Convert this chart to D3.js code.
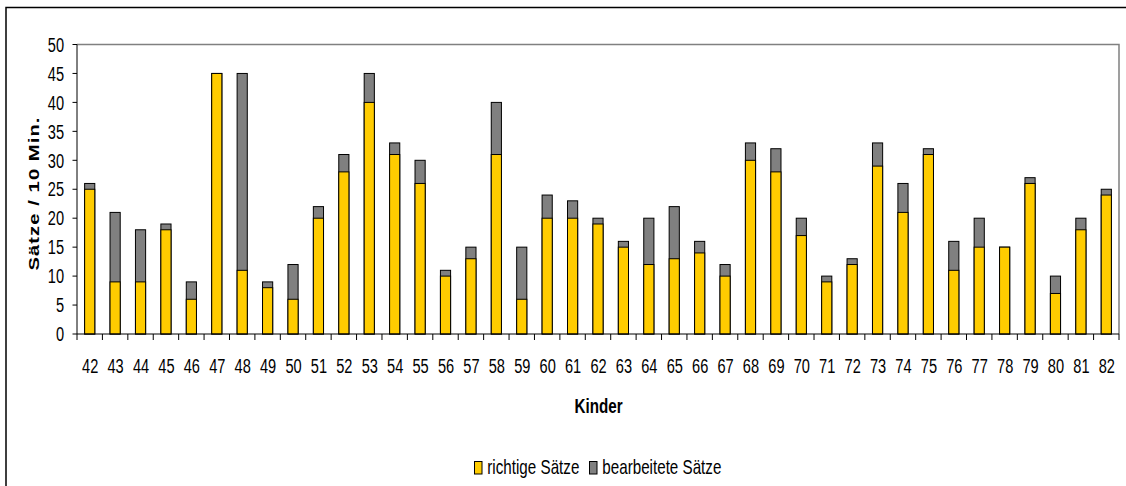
<!DOCTYPE html>
<html>
<head>
<meta charset="utf-8">
<script src="https://cdn.jsdelivr.net/npm/d3@7"></script>
<style>
  html, body { margin: 0; padding: 0; background: #fff; }
  svg { display: block; font-family: "Liberation Sans", Arial, sans-serif; }
</style>
</head>
<body>
<svg id="chart" width="1126" height="486"></svg>
<script>
// Children 42–82: sentences per 10 minutes
const kinder = ["42","43","44","45","46","47","48","49","50","51","52","53","54","55","56","57","58","59","60","61","62","63","64","65","66","67","68","69","70","71","72","73","74","75","76","77","78","79","80","81","82"];
const richtigeSaetze = [25,9,9,18,6,45,11,8,6,20,28,40,31,26,10,13,31,6,20,20,19,15,12,13,14,10,30,28,17,9,12,29,21,31,11,15,15,26,7,18,24];
const bearbeiteteSaetze = [26,21,18,19,9,45,45,9,12,22,31,45,33,30,11,15,40,15,24,23,20,16,20,22,16,12,33,32,20,10,13,33,26,32,16,20,15,27,10,20,25];
const yTicks = [0,5,10,15,20,25,30,35,40,45,50];
const seriesNames = ["richtige Sätze", "bearbeitete Sätze"];

const colYellow = "#FFCC00";
const colGrey = "#808080";
const stretch = 1.33;      // tall, narrow lettering
const tickStretch = 1.4;

const svg = d3.select("#chart");
const plotL = 77, plotR = 1119, plotT = 44.5, plotB = 334;

// outer frame
svg.append("rect")
  .attr("x", 6).attr("y", 7.5).attr("width", 1140).attr("height", 500)
  .attr("fill", "none").attr("stroke", "#000").attr("stroke-width", 1.5);

const x = d3.scaleBand().domain(kinder).range([plotL, plotR]).paddingInner(0.6).paddingOuter(0.3);
const y = d3.scaleLinear().domain([0, 50]).range([plotB, plotT]);

// plot area border (top / right)
svg.append("path")
  .attr("d", `M${plotL},${plotT}H${plotR}V${plotB}`)
  .attr("fill", "none").attr("stroke", colGrey).attr("stroke-width", 1.5);

const rows = kinder.map((k, i) => ({ k, r: richtigeSaetze[i], b: bearbeiteteSaetze[i] }));

// processed sentences (behind)
svg.append("g").selectAll("rect").data(rows).join("rect")
  .attr("x", d => x(d.k)).attr("width", x.bandwidth())
  .attr("y", d => y(d.b)).attr("height", d => y(0) - y(d.b))
  .attr("fill", colGrey).attr("stroke", "#000").attr("stroke-width", 1);

// correct sentences (front)
svg.append("g").selectAll("rect").data(rows).join("rect")
  .attr("x", d => x(d.k)).attr("width", x.bandwidth())
  .attr("y", d => y(d.r)).attr("height", d => y(0) - y(d.r))
  .attr("fill", colYellow).attr("stroke", "#000").attr("stroke-width", 1);

// y axis
const yAxis = svg.append("g");
yAxis.append("line").attr("x1", plotL).attr("x2", plotL).attr("y1", plotT).attr("y2", plotB)
  .attr("stroke", "#000").attr("stroke-width", 1);
yAxis.selectAll("line.t").data(yTicks).join("line").attr("class", "t")
  .attr("x1", plotL - 4.5).attr("x2", plotL).attr("y1", d => y(d)).attr("y2", d => y(d))
  .attr("stroke", "#000").attr("stroke-width", 1);
yAxis.selectAll("text").data(yTicks).join("text")
  .attr("transform", d => `translate(64,${y(d) + 7.2}) scale(1,${tickStretch})`)
  .attr("text-anchor", "end").attr("font-size", 14.6).attr("fill", "#000")
  .text(d => d);

// x axis
const xAxis = svg.append("g");
xAxis.append("line").attr("x1", plotL).attr("x2", plotR).attr("y1", plotB).attr("y2", plotB)
  .attr("stroke", "#000").attr("stroke-width", 1);
const step = x.step();
const boundaries = d3.range(kinder.length + 1).map(i => plotL + i * step);
xAxis.selectAll("line.t").data(boundaries).join("line").attr("class", "t")
  .attr("x1", d => d).attr("x2", d => d).attr("y1", plotB).attr("y2", plotB + 6)
  .attr("stroke", "#000").attr("stroke-width", 1);
xAxis.selectAll("text").data(kinder).join("text")
  .attr("transform", d => `translate(${x(d) + x.bandwidth() / 2 + 0.5},373.3) scale(1,${tickStretch})`)
  .attr("text-anchor", "middle").attr("font-size", 14.6).attr("fill", "#000")
  .text(d => d);

// axis titles
svg.append("text")
  .attr("transform", `translate(598.5,413.3) scale(1,${stretch})`)
  .attr("text-anchor", "middle").attr("font-size", 15.2).attr("font-weight", "bold")
  .text("Kinder");

svg.append("text")
  .attr("transform", `translate(38.5,193.5) scale(1,${stretch}) rotate(-90)`)
  .attr("text-anchor", "middle").attr("font-size", 15.2).attr("font-weight", "bold")
  .attr("letter-spacing", 0.8)
  .text("Sätze / 10 Min.");

// legend
const legend = svg.append("g");
const legendItems = [
  { name: seriesNames[0], color: colYellow, x: 474.5 },
  { name: seriesNames[1], color: colGrey, x: 589.5 }
];
legendItems.forEach(it => {
  legend.append("rect").attr("x", it.x).attr("y", 461.5).attr("width", 7.5).attr("height", 12.5)
    .attr("fill", it.color).attr("stroke", "#000").attr("stroke-width", 1);
  legend.append("text")
    .attr("transform", `translate(${it.x + 12.8},474.3) scale(1,${stretch})`)
    .attr("font-size", 15.2).attr("fill", "#000")
    .text(it.name);
});
</script>
</body>
</html>
